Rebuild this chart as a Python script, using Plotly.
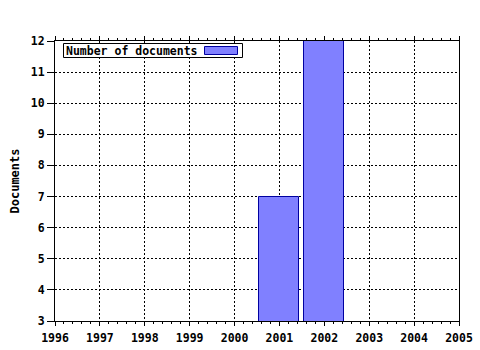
import plotly.graph_objects as go

years = [2001, 2002]
documents = [7, 12]
x_ticks = list(range(1996, 2006))
y_ticks = list(range(3, 13))
series_name = "Number of documents"

FONT = "DejaVu Sans Mono"
FILL = "#8080ff"
EDGE = "#0000a0"

# plot area geometry (pixels) used to place the legend box
L, R, T, B = 55, 459, 41, 321
def px(xp):
    return (xp - L) / (R - L)
def py(yp):
    return (B - yp) / (B - T)

fig = go.Figure()
fig.add_trace(go.Bar(
    x=years, y=documents, name=series_name,
    width=0.89,
    marker=dict(color=FILL, line=dict(color=EDGE, width=1)),
    showlegend=False,
))

# legend box (drawn manually so the swatch sits right of the text)
fig.add_shape(type="rect", xref="paper", yref="paper",
              x0=px(63.5), x1=px(242.5), y0=py(57.5), y1=py(43.5),
              fillcolor="white", line=dict(color="black", width=1), layer="above")
fig.add_shape(type="rect", xref="paper", yref="paper",
              x0=px(204.5), x1=px(237.5), y0=py(54.5), y1=py(46.5),
              fillcolor=FILL, line=dict(color=EDGE, width=1), layer="above")
fig.add_annotation(text=series_name, xref="paper", yref="paper",
                   x=px(64), y=py(50.5), xanchor="left", yanchor="middle",
                   showarrow=False,
                   font=dict(family=FONT, size=11.5, color="black", weight="bold"))

fig.update_layout(
    width=480, height=350,
    margin=dict(l=L, r=480 - R, t=T, b=350 - B),
    paper_bgcolor="white", plot_bgcolor="white",
    font=dict(family=FONT, size=11.5, color="black", weight="bold"),
    showlegend=False,
    xaxis=dict(
        range=[1996, 2005], tickmode="array", tickvals=x_ticks,
        ticktext=[str(v) for v in x_ticks],
        showline=True, linecolor="black", linewidth=1, mirror="ticks",
        ticks="outside", ticklen=4, tickcolor="black",
        ticklabelstandoff=2,
        minor=dict(dtick=0.2, ticks="outside", ticklen=2, tickcolor="black", showgrid=False),
        showgrid=True, gridcolor="black", griddash="2px,2px", gridwidth=1,
        zeroline=False, automargin=False,
    ),
    yaxis=dict(
        range=[3, 12], tickmode="array", tickvals=y_ticks,
        showline=True, linecolor="black", linewidth=1, mirror=True,
        ticks="outside", ticklen=7, tickcolor="black",
        showgrid=True, gridcolor="black", griddash="2px,2px", gridwidth=1,
        zeroline=False, automargin=False,
        title=dict(text="Documents", standoff=8, font=dict(size=12)),
    ),
    bargap=0,
)

fig.write_html("out.html")
